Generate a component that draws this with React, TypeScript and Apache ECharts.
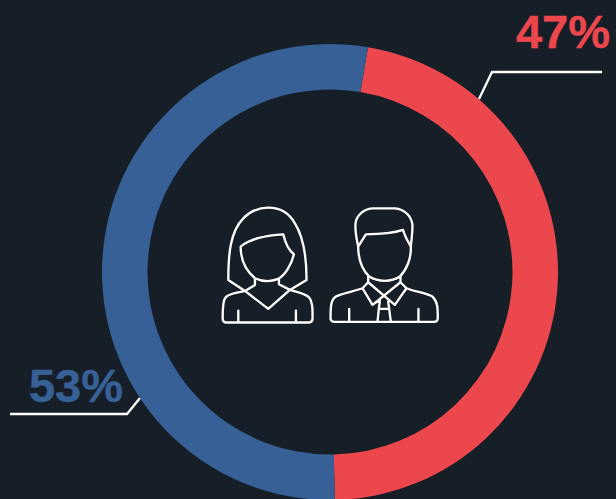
import React, { useEffect, useRef } from "react";
import * as echarts from "echarts";

const categories = ["Female", "Male"];
const shares = [47, 53];
const colors = ["#EC474D", "#366096"];
const labelBoxes = [
  { x: 563, y: 31, points: [[479, 99], [492, 72], [602, 72]] },
  { x: 76, y: 385, points: [[140, 398], [127, 414], [10, 414]] },
];

const womanPath =
  "M105 288 L55 255 C55 180 60 110 100 70 C125 45 150 38 175 38 C205 38 235 50 255 85 C280 125 290 190 290 255 L240 285 " +
  "M92 155 C115 135 165 120 220 118 C225 140 235 165 252 178 C245 210 225 240 205 252 C180 262 160 262 135 250 C105 225 92 195 92 155 Z " +
  "M135 250 L135 270 L105 288 L175 342 L240 285 L207 268 L207 252 " +
  "M105 288 C80 295 55 295 45 310 C38 320 38 340 38 370 Q38 383 50 383 L295 383 Q308 383 308 370 C308 340 308 320 298 308 C285 295 260 292 240 285 " +
  "M85 347 L85 383 M258 347 L258 383";

const manPath =
  "M445 155 C440 130 435 110 437 85 C440 60 465 40 490 40 L555 40 C585 42 605 65 608 90 C608 115 605 135 603 155 " +
  "M445 155 L468 118 C510 118 550 115 580 105 C585 125 595 140 603 155 C605 190 590 225 570 245 C545 262 505 262 478 245 C455 222 445 190 445 155 Z " +
  "M475 245 L475 262 L458 280 L488 330 L510 315 M475 262 L555 330 L590 280 L572 262 L572 245 M572 262 L488 330 " +
  "M510 320 L507 342 L538 342 L535 320 M507 342 L503 380 M538 342 L543 380 " +
  "M458 280 C430 290 395 295 378 305 C362 315 362 340 362 370 Q362 381 375 381 L672 381 Q684 381 684 370 C684 340 684 320 668 305 C650 295 615 290 590 280 " +
  "M418 342 L418 381 M626 342 L626 381";

echarts.graphic.registerShape("womanIcon", echarts.graphic.extendPath(womanPath, {}));
echarts.graphic.registerShape("manIcon", echarts.graphic.extendPath(manPath, {}));

export default function App() {
  const ref = useRef<HTMLDivElement>(null);
  useEffect(() => {
    document.body.style.margin = "0";
    document.body.style.background = "#161F28";
    const chart = echarts.init(ref.current!, null, { renderer: "svg" });
    const iconStyle = { fill: "none", stroke: "#FFFFFF", lineWidth: 7, lineJoin: "round", lineCap: "round" };
    chart.setOption({
      animation: false,
      backgroundColor: "#161F28",
      graphic: [
        { type: "womanIcon", shape: { width: 720, height: 420 }, x: 210, y: 195, scaleX: 1 / 3, scaleY: 1 / 3, style: iconStyle, silent: true },
        { type: "manIcon", shape: { width: 720, height: 420 }, x: 210, y: 195, scaleX: 1 / 3, scaleY: 1 / 3, style: iconStyle, silent: true },
      ],
      series: [
        {
          type: "pie",
          center: [330, 272],
          radius: [182.5, 228],
          startAngle: 80.4,
          clockwise: true,
          silent: true,
          avoidLabelOverlap: false,
          data: categories.map((name, i) => ({
            name,
            value: shares[i],
            itemStyle: { color: colors[i] },
            label: { color: colors[i], textBorderColor: colors[i], textBorderWidth: 0.4 },
          })),
          label: {
            show: true,
            position: "outside",
            overflow: "none",
            width: 200,
            formatter: "{c}%",
            fontFamily: "Liberation Sans",
            fontWeight: "bold",
            fontSize: 47,
          },
          labelLine: { show: true, lineStyle: { color: "#FFFFFF", width: 2.3 } },
          labelLayout: (p: any) => {
            const box = labelBoxes[p.dataIndex];
            return { x: box.x, y: box.y, align: "center", verticalAlign: "middle", labelLinePoints: box.points };
          },
        },
      ],
    });
    return () => chart.dispose();
  }, []);
  return <div ref={ref} style={{ width: 616, height: 499 }} />;
}
